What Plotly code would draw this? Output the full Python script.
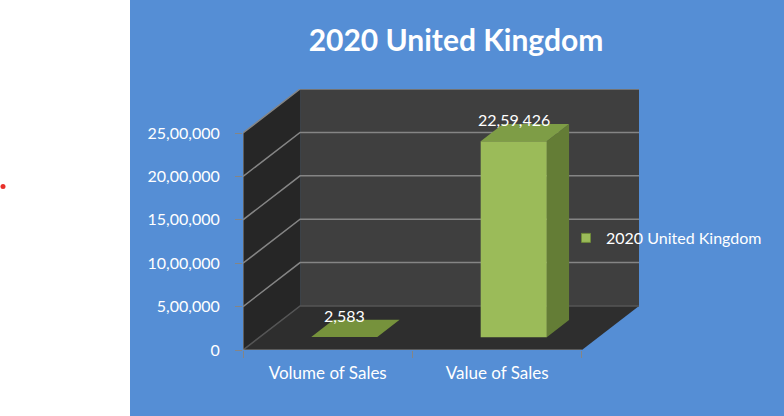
import plotly.graph_objects as go

# ---------------- data ----------------
categories = ["Volume of Sales", "Value of Sales"]
values = [2583, 2259426]
value_labels = ["2,583", "22,59,426"]
series_name = "2020 United Kingdom"
chart_title = "2020 United Kingdom"
y_tick_values = [0, 500000, 1000000, 1500000, 2000000, 2500000]
y_tick_labels = ["0", "5,00,000", "10,00,000", "15,00,000", "20,00,000", "25,00,000"]

# ---------------- style / geometry ----------------
W, H = 784, 416
ML, MR, MT, MB = 243, 145, 89, 66
PW, PH = W - ML - MR, H - MT - MB

BLUE = "#558ED5"
BACK = "#3F3F3F"
SIDE = "#262626"
FLOOR = "#2E2E2E"
GRID = "#858585"
BAR_FRONT = "#9BBB59"
BAR_SIDE = "#647D36"
BAR_TOP = "#7E9D46"
FONT = "Lato, Calibri, 'DejaVu Sans', sans-serif"

Y_MAX = y_tick_values[-1]
DEPTH_X = 0.337                 # depth offset in category units
DEPTH_Y = Y_MAX * 0.2028        # depth offset in value units
BAR_W = 0.39
F1, F2 = 0.29, 0.68             # bar front/back depth fractions

XA = -0.5
XB = len(categories) - 0.5
x_range = [XA, XB + DEPTH_X]
y_range = [0, Y_MAX + DEPTH_Y]


def px2paper_x(px):
    return (px - ML) / PW


def px2paper_y(py):
    return (H - MB - py) / PH


fig = go.Figure()


def poly(xs, ys, color, line_color=None, width=0):
    fig.add_trace(go.Scatter(
        x=xs + [xs[0]], y=ys + [ys[0]], mode="lines", fill="toself",
        fillcolor=color, line=dict(color=line_color or color, width=width),
        hoverinfo="skip", showlegend=False))


def seg(xs, ys, color=GRID, width=1):
    fig.add_trace(go.Scatter(x=xs, y=ys, mode="lines",
                             line=dict(color=color, width=width),
                             hoverinfo="skip", showlegend=False))


# back wall
poly([XA + DEPTH_X, XB + DEPTH_X, XB + DEPTH_X, XA + DEPTH_X],
     [DEPTH_Y, DEPTH_Y, Y_MAX + DEPTH_Y, Y_MAX + DEPTH_Y], BACK)
# side wall
poly([XA, XA + DEPTH_X, XA + DEPTH_X, XA],
     [0, DEPTH_Y, Y_MAX + DEPTH_Y, Y_MAX], SIDE)
# floor
poly([XA, XB, XB + DEPTH_X, XA + DEPTH_X], [0, 0, DEPTH_Y, DEPTH_Y], FLOOR)

# gridlines
for v in y_tick_values:
    col = "#555555" if v == 0 else GRID
    seg([XA, XA + DEPTH_X, XB + DEPTH_X], [v, v + DEPTH_Y, v + DEPTH_Y], col, 1.5)
# front edges
seg([XA, XA], [0, Y_MAX], GRID, 1.2)
seg([XA, XB], [0, 0], GRID, 1.2)

# bars
ox1, oy1 = F1 * DEPTH_X, F1 * DEPTH_Y
ox2, oy2 = F2 * DEPTH_X, F2 * DEPTH_Y
for i, v in enumerate(values):
    l, r = i - BAR_W / 2, i + BAR_W / 2
    # side
    poly([r + ox1, r + ox2, r + ox2, r + ox1], [oy1, oy2, v + oy2, v + oy1], BAR_SIDE)
    # front
    poly([l + ox1, r + ox1, r + ox1, l + ox1], [oy1, oy1, v + oy1, v + oy1], BAR_FRONT)
    # top
    poly([l + ox1, r + ox1, r + ox2, l + ox2], [v + oy1, v + oy1, v + oy2, v + oy2],
         BAR_TOP if v > Y_MAX * 0.02 else "#76923C")
    fig.add_annotation(x=i + ox1, y=v + oy2, text=value_labels[i], showarrow=False,
                       xanchor="center", yanchor="middle", yshift=4,
                       font=dict(family=FONT, size=16, color="white"))

# legend entry
fig.add_trace(go.Scatter(x=[None], y=[None], mode="markers", name=series_name,
                         marker=dict(symbol="square", size=9, color=BAR_FRONT,
                                     line=dict(color="#6F8A3A", width=1))))

shapes = [
    dict(type="rect", xref="paper", yref="paper",
         x0=px2paper_x(-5), x1=px2paper_x(130), y0=px2paper_y(H + 5), y1=px2paper_y(-5),
         fillcolor="white", line=dict(width=0), layer="below"),
    dict(type="circle", xref="paper", yref="paper",
         x0=px2paper_x(0.5), x1=px2paper_x(5.5), y0=px2paper_y(189), y1=px2paper_y(184),
         fillcolor="#E8302A", line=dict(width=0), layer="above"),
]

fig.update_layout(
    width=W, height=H,
    margin=dict(l=ML, r=MR, t=MT, b=MB, pad=0),
    paper_bgcolor=BLUE, plot_bgcolor="rgba(0,0,0,0)",
    shapes=shapes,
    title=dict(text=chart_title, x=456 / W, y=1 - 40 / H,
               xref="container", yref="container", xanchor="center", yanchor="middle",
               font=dict(family=FONT, size=30, color="white", weight="bold")),
    xaxis=dict(range=x_range, showgrid=False, zeroline=False, showline=False,
               tickvals=list(range(len(categories))), ticktext=categories,
               ticks="", ticklabelstandoff=11,
               tickfont=dict(family=FONT, size=17, color="white"),
               minor=dict(tickvals=[XA + k for k in range(len(categories) + 1)],
                          ticks="outside", ticklen=7, tickcolor=GRID, tickwidth=1)),
    yaxis=dict(range=y_range, showgrid=False, zeroline=False, showline=False,
               tickvals=y_tick_values, ticktext=y_tick_labels,
               ticks="outside", ticklen=7, tickcolor=GRID, ticklabelstandoff=12,
               tickfont=dict(family=FONT, size=16, color="white")),
    showlegend=True,
    legend=dict(x=px2paper_x(566), y=px2paper_y(238), xanchor="left", yanchor="middle",
                bgcolor="rgba(0,0,0,0)", font=dict(family=FONT, size=16, color="white")),
)

fig.write_html("out.html", config={"displayModeBar": False},
               post_script="document.body.style.margin='0px';")
